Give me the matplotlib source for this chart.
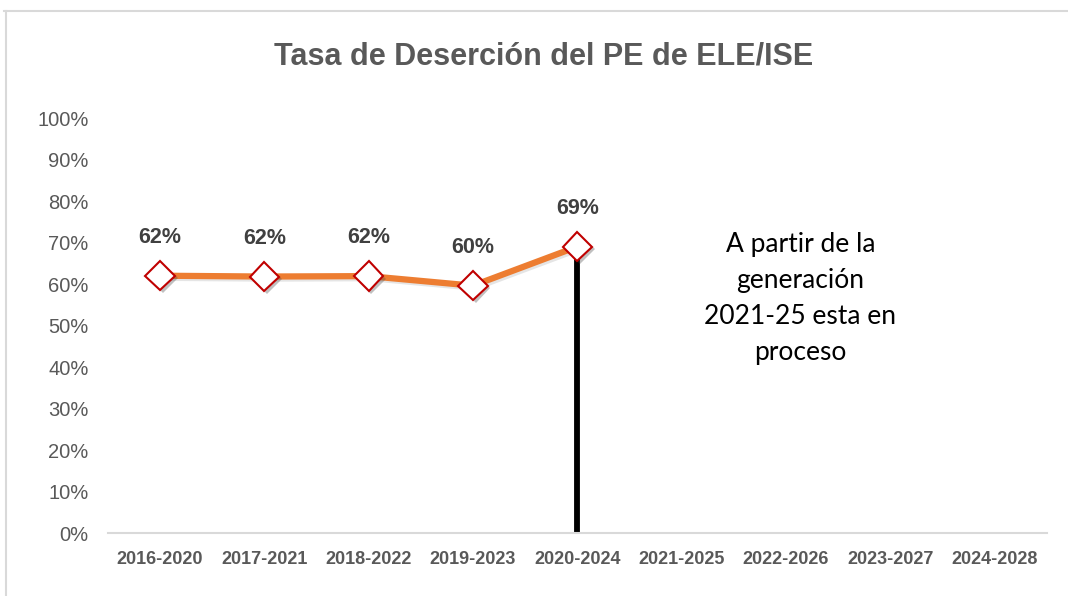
import matplotlib
matplotlib.use("Agg")
import matplotlib.pyplot as plt
import matplotlib.patheffects as pe
from matplotlib.lines import Line2D

# data
generaciones = ["2016-2020", "2017-2021", "2018-2022", "2019-2023", "2020-2024",
                "2021-2025", "2022-2026", "2023-2027", "2024-2028"]
tasa = [0.62, 0.618, 0.619, 0.596, 0.69]
etiquetas = ["62%", "62%", "62%", "60%", "69%"]
y_ticks = [0, 0.1, 0.2, 0.3, 0.4, 0.5, 0.6, 0.7, 0.8, 0.9, 1.0]
y_labels = ["0%", "10%", "20%", "30%", "40%", "50%", "60%", "70%", "80%", "90%", "100%"]
corte = 4  # index of last finished generation
nota = "A partir de la\ngeneración\n2021-25 esta en\nproceso"

narrow = ["Liberation Sans Narrow", "Liberation Sans", "DejaVu Sans"]
gris = "#595959"

fig = plt.figure(figsize=(10.68, 5.96), dpi=100)
ax = fig.add_axes([0.101, 0.1057, 0.879, 0.6963])

# border of the chart area
fig.add_artist(Line2D([4/1068, 1], [1 - 11/596, 1 - 11/596], color="#d9d9d9", lw=1.5))
fig.add_artist(Line2D([6/1068, 6/1068], [0, 1 - 11/596], color="#d9d9d9", lw=1.5))

x = list(range(len(tasa)))

# black divider line
ax.vlines(corte, 0, tasa[corte], color="black", lw=4.2, zorder=2)

shadow = [pe.SimpleLineShadow(offset=(1.5, -1.5), shadow_color="gray", alpha=0.2), pe.Normal()]
ax.plot(x, tasa, color="#ED7D31", lw=4.5, zorder=3, path_effects=shadow)
ax.plot(x, tasa, ls="none", marker="D", markersize=15, markerfacecolor="white",
        markeredgecolor="#C00000", markeredgewidth=1.5, zorder=4,
        path_effects=[pe.SimplePatchShadow(offset=(2, -2), alpha=0.35), pe.Normal()])

for xi, yi, lab in zip(x, tasa, etiquetas):
    ax.annotate(lab, (xi, yi), xytext=(0, 20), textcoords="offset points",
                ha="center", va="bottom", fontsize=15.5, fontweight="bold",
                color="#404040", family=narrow)

ax.text(6.14, 0.564, nota, ha="center", va="center", fontsize=19,
        family=["Lato", "DejaVu Sans"], color="black", linespacing=1.55)

ax.set_xlim(-0.5, len(generaciones) - 0.5)
ax.set_ylim(0, 1)
ax.set_xticks(range(len(generaciones)))
ax.set_xticklabels(generaciones, fontsize=13, fontweight="bold", color=gris, family=narrow)
ax.set_yticks(y_ticks)
ax.set_yticklabels(y_labels, fontsize=14.5, color=gris, family=narrow)
ax.tick_params(length=0)
ax.tick_params(axis="x", pad=13)
ax.tick_params(axis="y", pad=14)

for s in ["top", "right", "left"]:
    ax.spines[s].set_visible(False)
ax.spines["bottom"].set_color("#d9d9d9")
ax.spines["bottom"].set_linewidth(1.5)

fig.text(0.509, 0.905, "Tasa de Deserción del PE de ELE/ISE", ha="center", va="center",
         fontsize=22, fontweight="bold", color=gris, family=narrow)

fig.savefig("out.png", dpi=100, facecolor="white")
